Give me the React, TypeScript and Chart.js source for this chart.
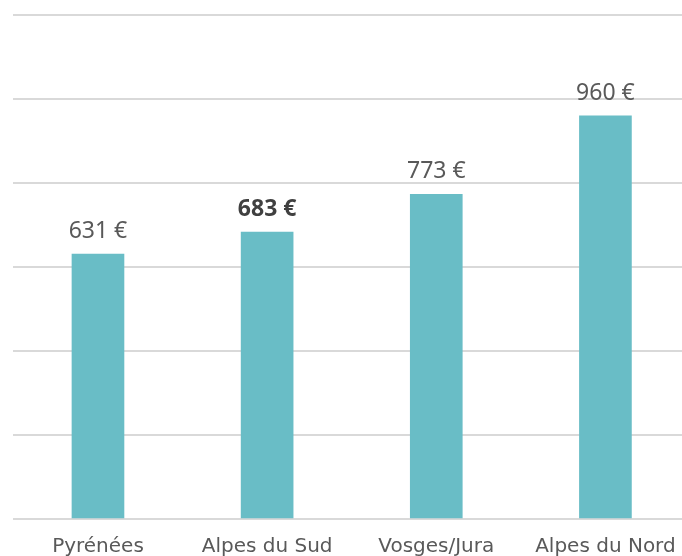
import React, { useEffect, useRef } from "react";
import { Chart, registerables } from "chart.js";

Chart.register(...registerables);

const categories = ["Pyrénées", "Alpes du Sud", "Vosges/Jura", "Alpes du Nord"];
const values = [631, 683, 773, 960];
const highlighted = ["Alpes du Sud"];
const yMin = 0;
const yMax = 1200;
const yStep = 200;

const valueLabels = {
  id: "valueLabels",
  afterDatasetsDraw(chart: any) {
    const ctx = chart.ctx;
    const meta = chart.getDatasetMeta(0);
    ctx.save();
    ctx.textAlign = "center";
    ctx.textBaseline = "alphabetic";
    meta.data.forEach((bar: any, i: number) => {
      const isBold = highlighted.includes(categories[i]);
      ctx.font = (isBold ? "bold " : "") + "23px 'Noto Sans', 'DejaVu Sans', sans-serif";
      ctx.fillStyle = isBold ? "#404040" : "#595959";
      ctx.fillText(values[i] + " €", bar.x, bar.y - 16);
    });
    ctx.restore();
  },
};

export default function App() {
  const ref = useRef<HTMLCanvasElement | null>(null);

  useEffect(() => {
    if (!ref.current) return;
    const chart = new Chart(ref.current, {
      type: "bar",
      data: {
        labels: categories,
        datasets: [
          {
            data: values,
            backgroundColor: "#69BDC6",
            borderWidth: 0,
            barThickness: 52,
          },
        ],
      },
      options: {
        animation: false,
        responsive: true,
        maintainAspectRatio: false,
        layout: { padding: { left: 13.4, right: 10, top: 15, bottom: 10 } },
        plugins: {
          legend: { display: false },
          tooltip: { enabled: false },
        },
        scales: {
          x: {
            grid: { display: false, drawTicks: false },
            border: { display: false },
            ticks: {
              color: "#595959",
              padding: 16,
              font: { family: "'DejaVu Sans', sans-serif", size: 20, lineHeight: 1.2 },
              maxRotation: 0,
              autoSkip: false,
            },
          },
          y: {
            min: yMin,
            max: yMax,
            ticks: { display: false, stepSize: yStep },
            grid: { color: "#d9d9d9", lineWidth: 2, drawTicks: false },
            border: { display: false },
          },
        },
      },
      plugins: [valueLabels],
    });
    return () => chart.destroy();
  }, []);

  return (
    <div
      style={{
        position: "fixed",
        left: 0,
        top: 0,
        width: 682,
        height: 556,
        overflow: "hidden",
        background: "#ffffff",
      }}
    >
      <div style={{ position: "absolute", left: 0, top: 0, width: 700, height: 585 }}>
        <canvas ref={ref} />
      </div>
    </div>
  );
}
